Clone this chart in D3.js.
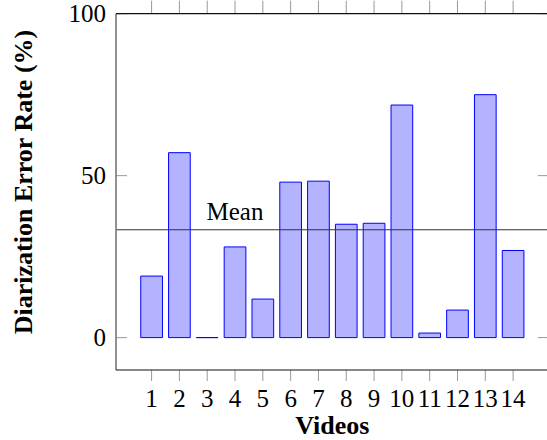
<!DOCTYPE html>
<html>
<head>
<meta charset="utf-8">
<script src="https://cdn.jsdelivr.net/npm/d3@7"></script>
<style>
  body { margin: 0; background: #fff; }
  text { font-family: "Liberation Serif", "DejaVu Serif", serif; }
</style>
</head>
<body>
<div id="chart"></div>
<script>
// values
var videos = [1, 2, 3, 4, 5, 6, 7, 8, 9, 10, 11, 12, 13, 14];
var errorRates = [19.0, 57.1, 0, 28.0, 11.9, 48.0, 48.3, 35.0, 35.3, 71.8, 1.4, 8.5, 75.0, 26.9];
var yTicks = [0, 50, 100];
var meanLabel = "Mean";

var width = 547, height = 440;
var plot = { left: 116, right: 548.7, top: 13.7, bottom: 370 };

var svg = d3.select("#chart")
	.append("svg")
	.attr("width", width)
	.attr("height", height);

var x = d3.scaleLinear().domain([-0.28, 15.28]).range([plot.left, plot.right]);
var y = d3.scaleLinear().domain([-10, 100]).range([plot.bottom, plot.top]);
var barHalf = 0.39;
var meanValue = d3.mean(errorRates);

// bars (paths so that a zero bar still shows its edge)
svg.append("g")
	.selectAll("path")
	.data(videos)
	.join("path")
	.attr("d", function(d, i) {
		var x0 = x(d - barHalf), x1 = x(d + barHalf);
		var y0 = y(0), y1 = y(errorRates[i]);
		return "M" + x0 + "," + y0 + "V" + y1 + "H" + x1 + "V" + y0 + "Z";
	})
	.style("fill", "#b3b3ff")
	.style("stroke", "#0000ff")
	.style("stroke-width", 1);

// mean line + label
svg.append("line")
	.attr("x1", plot.left)
	.attr("x2", plot.right)
	.attr("y1", y(meanValue))
	.attr("y2", y(meanValue))
	.style("stroke", "#333")
	.style("stroke-width", 1.2);
svg.append("text")
	.attr("x", x(4))
	.attr("y", y(meanValue) - 10)
	.attr("text-anchor", "middle")
	.style("font-size", "25px")
	.text(meanLabel);

// x ticks, bottom and top, outside
var xt = svg.append("g");
xt.selectAll("line.b")
	.data(videos)
	.join("line")
	.attr("class", "b")
	.attr("x1", function(d) { return x(d); })
	.attr("x2", function(d) { return x(d); })
	.attr("y1", plot.bottom)
	.attr("y2", plot.bottom + 11)
	.style("stroke", "#999");
xt.selectAll("line.t")
	.data(videos)
	.join("line")
	.attr("class", "t")
	.attr("x1", function(d) { return x(d); })
	.attr("x2", function(d) { return x(d); })
	.attr("y1", plot.top)
	.attr("y2", plot.top - 13)
	.style("stroke", "#999");
xt.selectAll("text")
	.data(videos)
	.join("text")
	.attr("x", function(d) { return x(d); })
	.attr("y", plot.bottom + 37)
	.attr("text-anchor", "middle")
	.style("font-size", "25px")
	.text(function(d) { return d; });

// y ticks, inside on both sides
var yt = svg.append("g");
yt.selectAll("line.l")
	.data(yTicks)
	.join("line")
	.attr("class", "l")
	.attr("x1", plot.left)
	.attr("x2", plot.left + 11)
	.attr("y1", function(d) { return y(d); })
	.attr("y2", function(d) { return y(d); })
	.style("stroke", "#999");
yt.selectAll("line.r")
	.data(yTicks)
	.join("line")
	.attr("class", "r")
	.attr("x1", plot.right)
	.attr("x2", plot.right - 11)
	.attr("y1", function(d) { return y(d); })
	.attr("y2", function(d) { return y(d); })
	.style("stroke", "#999");
yt.selectAll("text")
	.data(yTicks)
	.join("text")
	.attr("x", plot.left - 10)
	.attr("y", function(d) { return y(d) + 8; })
	.attr("text-anchor", "end")
	.style("font-size", "25px")
	.text(function(d) { return d; });

// frame
svg.append("line")
	.attr("x1", plot.left).attr("x2", plot.left)
	.attr("y1", plot.top).attr("y2", plot.bottom)
	.style("stroke", "#777").style("stroke-width", 1.6);
svg.append("line")
	.attr("x1", plot.left).attr("x2", plot.right)
	.attr("y1", plot.top).attr("y2", plot.top)
	.style("stroke", "#111").style("stroke-width", 1.2);
svg.append("line")
	.attr("x1", plot.left).attr("x2", plot.right)
	.attr("y1", plot.bottom).attr("y2", plot.bottom)
	.style("stroke", "#111").style("stroke-width", 1.2);

// axis titles
svg.append("text")
	.attr("x", (plot.left + plot.right) / 2)
	.attr("y", 434)
	.attr("text-anchor", "middle")
	.style("font-size", "26px")
	.style("font-weight", "bold")
	.text("Videos");
svg.append("text")
	.attr("transform", "translate(32," + 182 + ") rotate(-90)")
	.attr("text-anchor", "middle")
	.style("font-size", "26px")
	.style("font-weight", "bold")
	.text("Diarization Error Rate (%)");
</script>
</body>
</html>
